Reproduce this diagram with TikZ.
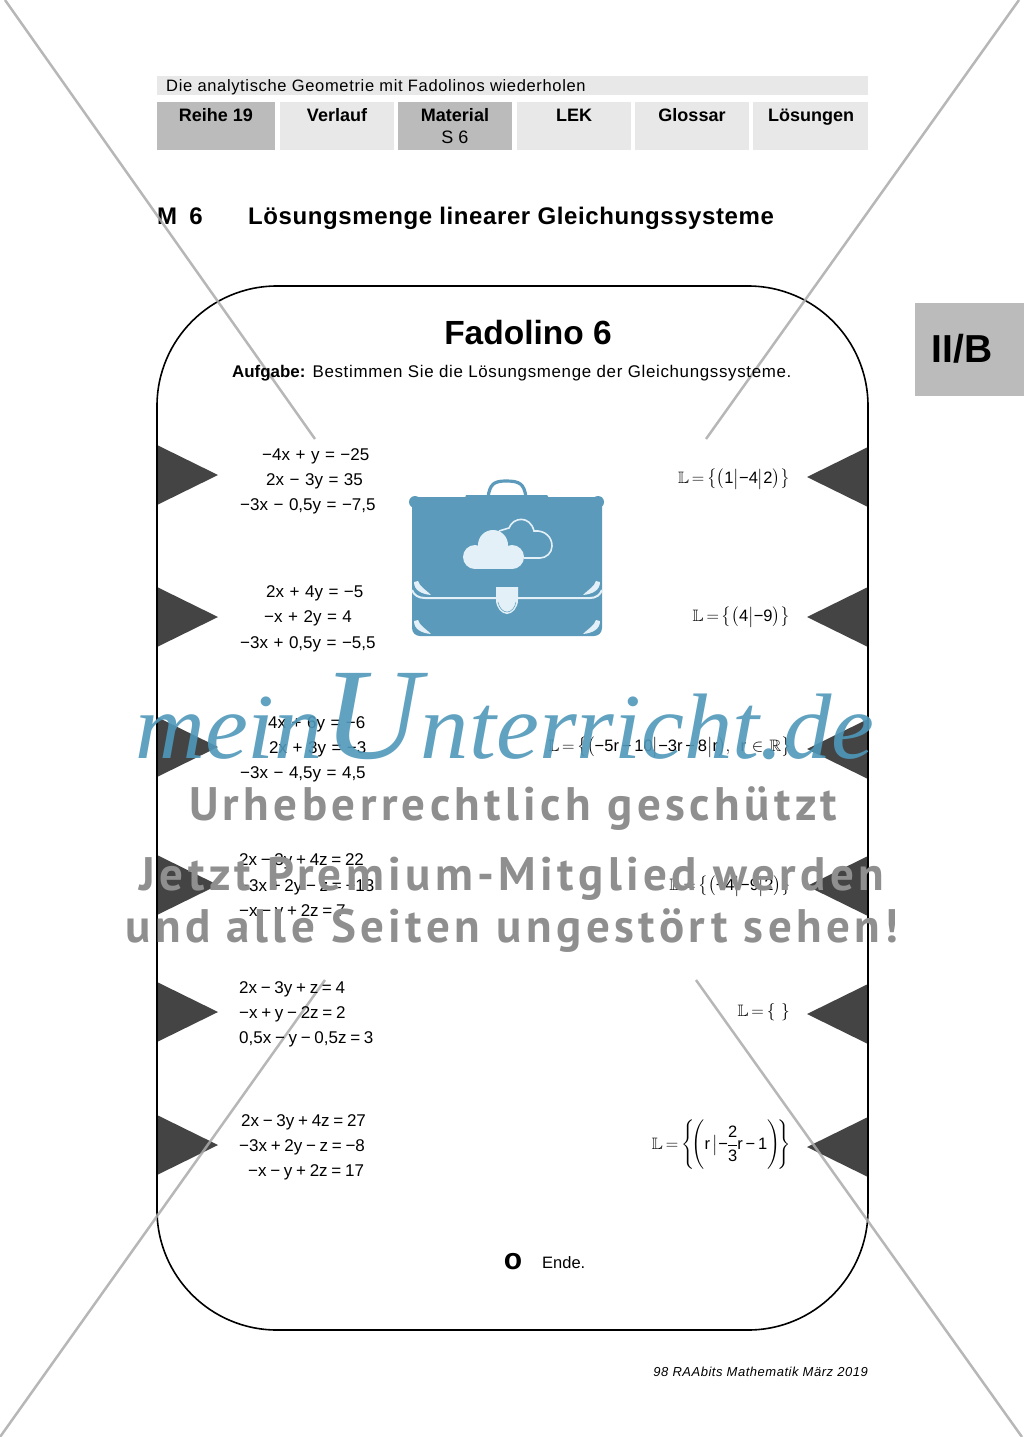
\documentclass[tikz,border=0pt]{standalone}
\usepackage{amsmath,amssymb}
\usepackage{fontspec}
\setmainfont{Liberation Sans}
\setsansfont{Liberation Sans}
\newfontfamily\widefont[LetterSpace=4]{Liberation Sans}
\newfontfamily\titlefont[LetterSpace=2.5]{Liberation Sans}
\newfontfamily\stampfont[LetterSpace=9.4]{PT Sans}
\newfontfamily\brandfont[FakeStretch=1.04]{Liberation Serif}
\newcommand{\gp}{\hspace{5.5pt}}
\newcommand{\gq}{\hspace{3.7pt}}
\newcommand{\mn}{\text{−}}
\newcommand{\lsg}[1]{\thickmuskip=3mu\nulldelimiterspace=0pt$\mathbb{L}=#1$}
\definecolor{tabdark}{HTML}{BBBBBB}
\definecolor{tablight}{HTML}{E8E8E8}
\definecolor{wedge}{HTML}{444444}
\definecolor{bagblue}{HTML}{5B9ABA}
\definecolor{baglight}{HTML}{E3F0F8}
\definecolor{cross}{HTML}{ABABAB}
\definecolor{stamp}{HTML}{8F8F8F}
\definecolor{brand}{HTML}{4F98BA}
\begin{document}
\begin{tikzpicture}[x=1pt,y=-1pt,
    tabtext/.style={font=\fontsize{18}{20}\selectfont\bfseries,anchor=base},
    bodytext/.style={anchor=base west,inner sep=0pt,font=\fontsize{16.5}{18}\selectfont},
    headline/.style={anchor=base west,inner sep=0pt,font=\fontsize{24}{26}\selectfont\titlefont\bfseries},
    eqn/.style={anchor=base west,inner sep=0pt,font=\fontsize{17}{18}\selectfont},
    sol/.style={anchor=east,inner sep=0pt,font=\fontsize{16.5}{18}\selectfont},
    crossline/.style={line width=2.5pt,cross,opacity=.85},
    stampline/.style={anchor=base,font=\fontsize{47}{50}\selectfont\stampfont\bfseries,text=stamp,inner sep=0pt}]
    \useasboundingbox (0,0) rectangle (1024,1437);
    \fill[white] (0,0) rectangle (1024,1437);
    \fill[tablight] (157,76) rectangle (868,95);
    \node[bodytext,font=\fontsize{16.5}{18}\selectfont\widefont] (kopf) at (166,91) {Die analytische Geometrie mit Fadolinos wiederholen};
    \foreach \a/\b/\c in {157/275/tabdark,280/394/tablight,398/512/tabdark,517/631/tablight,635/749/tablight,753/868/tablight}
    {
    \fill[\c] (\a,102) rectangle (\b,150);
    }
    \node[tabtext] (reihe) at (216,121) {Reihe 19};
    \node[tabtext] (verlauf) at (337,121) {Verlauf};
    \node[tabtext] (material) at (455,121) {Material};
    \node[anchor=base,font=\fontsize{18}{20}\selectfont] (seite) at (455,143) {S 6};
    \node[tabtext] (lek) at (574,121) {LEK};
    \node[tabtext] (glossar) at (692,121) {Glossar};
    \node[tabtext] (loesungen) at (811,121) {Lösungen};
    \node[headline] (nummer) at (157,224) {M\hspace{5pt} 6};
    \node[headline] (titel) at (248,224) {Lösungsmenge linearer Gleichungssysteme};
    \fill[tabdark] (915,303) rectangle (1024,396);
    \node[font=\fontsize{39}{42}\selectfont\bfseries] (teil) at (962,349) {II/B};
    \foreach \m in {475,617,747,885,1012,1145}
    {
    \fill[wedge] (157,\m-30) -- (218,\m) -- (157,\m+30) -- cycle;
    }
    \foreach \m in {477,617,749,886,1014,1147}
    {
    \fill[wedge] (868,\m-30) -- (807,\m) -- (868,\m+30) -- cycle;
    }
    \draw[line width=1.6pt,rounded corners=120pt] (157,286) rectangle (868,1330);
    \draw[crossline] (5,0) -- (315,439);
    \draw[crossline] (1019,0) -- (706,439);
    \draw[crossline] (325,980) -- (0,1437);
    \draw[crossline] (696,980) -- (1022,1437);
    \node[font=\fontsize{33.5}{36}\selectfont\bfseries] (fadolino) at (528,333) {Fadolino 6};
    \node[bodytext,font=\fontsize{16.9}{18}\selectfont\widefont] (aufgabe) at (232,377) {{\normalfont\bfseries Aufgabe:} Bestimmen Sie die Lösungsmenge der Gleichungssysteme.};
    \foreach \n/\x/\y/\txt in {
      a1/262/460/{−4x\gp+\gp y\gp=\gp−25},a2/266/485/{2x\gp−\gp 3y\gp=\gp 35},a3/240/510/{−3x\gp−\gp 0,5y\gp=\gp−7,5},
      b1/266/597/{2x\gp+\gp 4y\gp=\gp−5},b2/264/622/{−x\gp+\gp 2y\gp=\gp 4},b3/240/648/{−3x\gp+\gp 0,5y\gp=\gp−5,5},
      c1/268/728/{4x\gp+\gp 6y\gp=\gp−6},c2/269/753/{2x\gp+\gp 3y\gp=\gp−3},c3/240/778/{−3x\gp−\gp 4,5y\gp=\gp 4,5},
      d1/239/865/{2x\gq−\gq 3y\gq+\gq 4z\gq=\gq 22},d2/239/891/{−3x\gq+\gq 2y\gq−\gq z\gq=\gq−13},d3/239/916/{−x\gq−\gq y\gq+\gq 2z\gq=\gq 7},
      e1/239/993/{2x\gq−\gq 3y\gq+\gq z\gq=\gq 4},e2/239/1018/{−x\gq+\gq y\gq−\gq 2z\gq=\gq 2},e3/239/1043/{0,5x\gq−\gq y\gq−\gq 0,5z\gq=\gq 3},
      f1/241/1126/{2x\gq−\gq 3y\gq+\gq 4z\gq=\gq 27},f2/239/1151/{−3x\gq+\gq 2y\gq−\gq z\gq=\gq−8},f3/248/1176/{−x\gq−\gq y\gq+\gq 2z\gq=\gq 17}}
    {
    \node[eqn] (\n) at (\x,\y) {\txt};
    }
    \node[sol] (sola) at (790,479) {\lsg{\big\{\big(\mathsf{1}\big|\mn\mathsf{4}\big|\mathsf{2}\big)\big\}}};
    \node[sol] (solb) at (790,617) {\lsg{\big\{\big(\mathsf{4}\big|\mn\mathsf{9}\big)\big\}}};
    \node[sol] (solc) at (791,747) {\lsg{\big\{\big(\mn\mathsf{5r}\,\mn\,\mathsf{10}\big|\mn\mathsf{3r}\,\mn\,\mathsf{8}\big|\mathsf{r}\big),\ \,\mathsf{r}\,\in\,\mathbb{R}\big\}}};
    \node[sol] (sold) at (791,886) {\lsg{\big\{\big(\mn\mathsf{4}\big|\mn\mathsf{9}\big|\mathsf{2}\big)\big\}}};
    \node[sol] (sole) at (790,1012) {\lsg{\{\,\,\}}};
    \node[sol] (solf) at (791,1145) {\lsg{\Bigg\{\!\Bigg(\mathsf{r}\,\big|\mn\dfrac{\mathsf{2}}{\mathsf{3}}\mathsf{r}\,\mn\,\mathsf{1}\Bigg)\!\Bigg\}}};
    \fill[bagblue] (412,497) -- (602,497) -- (602,628) .. controls (602,633) and (598,636) .. (594,636) -- (420,636) .. controls (416,636) and (412,633) .. (412,628) -- cycle;
    \fill[bagblue] (415,502) circle (6);
    \fill[bagblue] (598,502) circle (6);
    \fill[bagblue] (465,498) -- (466,495) -- (547,495) -- (549,498) -- cycle;
    \draw[bagblue,line width=3.2pt] (488,497) .. controls (490,484) and (494,481) .. (506,481) .. controls (520,481) and (524,484) .. (526,497);
    \fill[baglight] (475,557) circle (12);
    \fill[baglight] (493,545) circle (15);
    \fill[baglight] (512,557) circle (12);
    \fill[baglight] (475,550) rectangle (512,569);
    \draw[baglight,line width=1.6pt] (499,531) -- (509,528) .. controls (513,517) and (530,515) .. (534,531) .. controls (545,530) and (552,537) .. (552,546) .. controls (552,553) and (546,558) .. (540,558) -- (524,558);
    \draw[baglight,line width=2pt] (412,590) .. controls (414,595) and (418,598) .. (425,598) -- (590,598) .. controls (596,598) and (600,595) .. (602,590);
    \foreach \t in {0,39}
    {
    \fill[baglight] (414,582+\t) .. controls (414,590+\t) and (421,594+\t) .. (431,595+\t) .. controls (425,589+\t) and (420,587+\t) .. (418,581+\t) -- cycle;
    \fill[baglight] (600,582+\t) .. controls (600,590+\t) and (593,594+\t) .. (583,595+\t) .. controls (589,589+\t) and (594,587+\t) .. (596,581+\t) -- cycle;
    }
    \fill[baglight] (496,587) -- (518,587) -- (518,600) .. controls (518,608) and (512,614) .. (507,614) .. controls (502,614) and (496,608) .. (496,600) -- cycle;
    \draw[bagblue,line width=.5pt] (498,602) .. controls (499,608) and (503,612) .. (507,612) .. controls (511,612) and (515,608) .. (516,602);
    \node[font=\fontsize{30}{30}\selectfont\bfseries] (kreis) at (513,1262) {o};
    \node[bodytext] (ende) at (542,1268) {Ende.};
    \node[anchor=base east,inner sep=0pt,font=\fontsize{13}{15}\selectfont\widefont\itshape] (quelle) at (868,1376) {98 RAAbits Mathematik März 2019};
    \node[anchor=base,text=brand,opacity=.9,inner sep=0pt,font=\fontsize{93}{96}\selectfont\brandfont\itshape] (marke) at (505,758) {mein{\fontsize{130}{130}\selectfont U}nterricht.de};
    \node[stampline] (stampa) at (513,820) {Urheberrechtlich geschützt};
    \node[stampline] (stampb) at (512,890) {Jetzt Premium-Mitglied werden};
    \node[stampline] (stampc) at (512,942) {und alle Seiten ungestört sehen!};
\end{tikzpicture}
\end{document}
